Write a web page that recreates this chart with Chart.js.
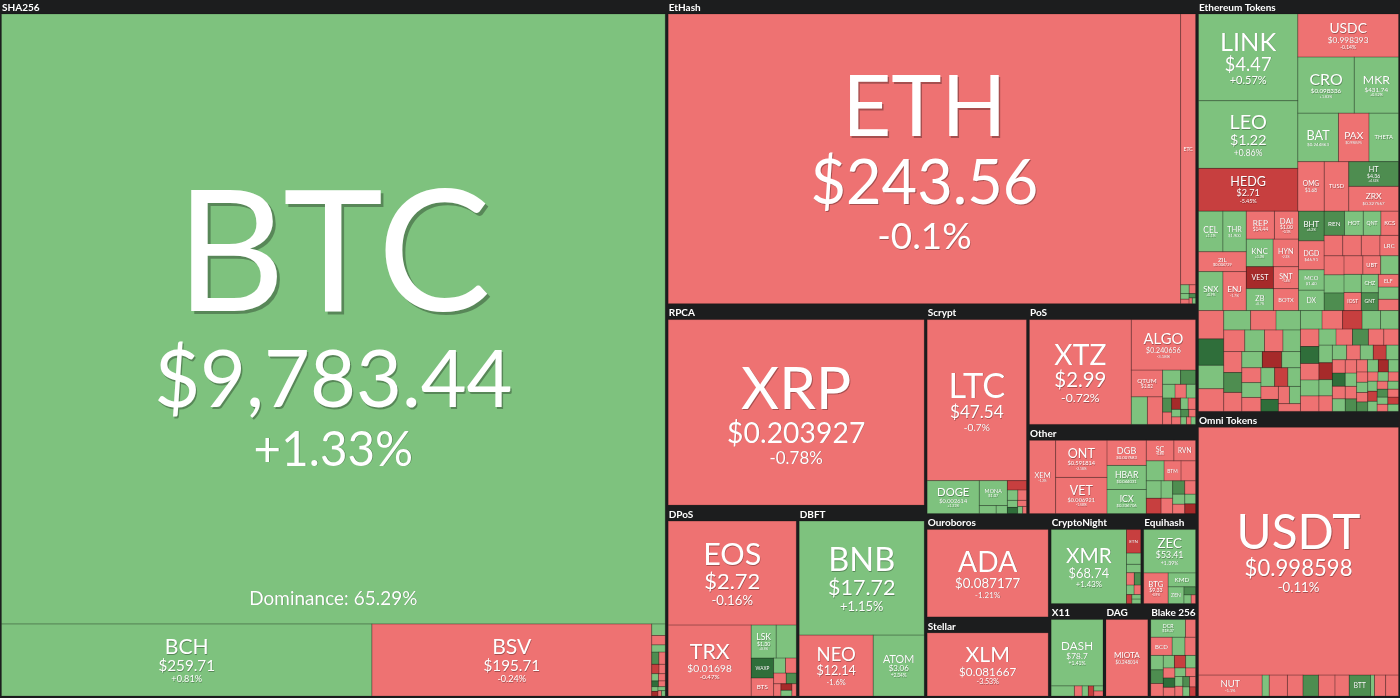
<!DOCTYPE html>
<html>
<head>
<meta charset="utf-8">
<title>Crypto market map</title>
<script src="https://cdn.jsdelivr.net/npm/chart.js@4.4.1/dist/chart.umd.min.js"></script>
<style>
  html, body { margin: 0; background: #1c1d1e; overflow: hidden; }
  #wrap { width: 1400px; height: 698px; }
</style>
</head>
<body>
<div id="wrap"><canvas id="map"></canvas></div>
<script>
/* ----------------------------------------------------------
   Data – cell sizes are relative market-cap weights
   ---------------------------------------------------------- */
const btcDominance = 65.29;

// SHA256
const shaSym   = ['BTC', 'BCH', 'BSV'];
const shaPrice = ['$9,783.44', '$259.71', '$195.71'];
const shaChg   = [1.33, 0.81, -0.24];
const shaSize  = [415.7, 27.4, 20.7];
const shaTinySize = [0.16, 0.13, 0.1, 0.09, 0.08, 0.07, 0.06, 0.05, 0.05, 0.04, 0.04, 0.03, 0.03, 0.03, 0.02, 0.02];
const shaTinyChg  = [1.2, -1.5, 0.6, 5.1, -2.2, -6.3, -1.1, 2.4, -0.9, 9.2, -3.1, 0.8, -8.4, 1.9, -0.4, 0.3];

// EtHash
const ethSym   = ['ETH', 'ETC'];
const ethPrice = ['$243.56', '$4.54'];
const ethChg   = [-0.1, -0.4];
const ethSize  = [157.3, 4.3];
const ethTinySize = [0.08, 0.06, 0.05, 0.04, 0.03, 0.02, 0.02];
const ethTinyChg  = [1.4, -1.1, 2.3, -0.6, 5.2, -2.7, 0.9];

// Ethereum Tokens
const etSym   = ['LINK', 'LEO', 'HEDG', 'USDC', 'CRO', 'MKR', 'BAT', 'PAX', 'THETA', 'OMG', 'TUSD', 'HT', 'ZRX'];
const etPrice = ['$4.47', '$1.22', '$2.71', '$0.998393', '$0.098336', '$431.74', '$0.244863', '$0.998595', '', '$1.68', '', '$4.36', '$0.327567'];
const etChg   = [0.57, 0.86, -5.45, -0.14, 1.83, 0.52, 0.9, -0.2, 0.6, -0.5, -0.3, 4.52, -0.83];
const etSize  = [9.07, 7.08, 4.48, 4.57, 3.34, 2.62, 2.08, 1.56, 1.51, 1.38, 1.28, 1.3, 1.3];
const etMidSym   = ['CEL', 'THR', 'ZIL', 'SNX', 'ENJ', 'REP', 'DAI', 'KNC', 'HYN', 'VEST', 'SNT', 'ZB', 'BOTX'];
const etMidPrice = ['', '$1.900', '$0.004729', '', '', '$14.44', '$1.00', '', '', '', '', '', ''];
const etMidChg   = [1.1, 0.4, -1.5, 0.9, -1.7, -1.2, -0.1, 1.3, -2.2, -9.1, -1.4, 0.7, -2.5];
const etMidSize  = [1.04, 1.0, 1.0, 1.0, 0.96, 0.83, 0.71, 0.78, 0.74, 0.63, 0.58, 0.63, 0.58];
const etSmallSym   = ['DGD', 'BHT', 'MCO', 'DX', 'REN', 'HOT', 'QNT', 'KCS', '', '', '', 'LRC', 'NEXO', '', '', 'SEELE', 'UBT', 'SOLVE', 'MANA', 'IOST', 'CHZ', 'GNT', 'ELF', '', ''];
const etSmallPrice = ['$46.91', '', '$1.40'];
const etSmallSize  = [0.78, 0.8, 0.55, 0.55, 0.52, 0.48, 0.45, 0.45, 0.4, 0.4, 0.4, 0.4, 0.4, 0.38, 0.37, 0.37, 0.35, 0.35, 0.33, 0.33, 0.33, 0.32, 0.27, 0.26, 0.24];
const etSmallChg   = [-1.1, 6.2, 1.2, 0.7, 5.3, 1.5, 2.1, -0.6, -1.8, -0.9, -0.3, -2.4, -1.3, 0.9, 7.5, -1.6, -0.8, 1.1, 0.6, -1.4, 2.6, 4.8, -2.2, 1.7, -0.5];
const etMosASize = [0.75, 0.7, 0.62, 0.6, 0.55, 0.52, 0.5, 0.48, 0.45, 0.42, 0.4, 0.4, 0.38, 0.36, 0.35, 0.33, 0.32, 0.3, 0.3, 0.28, 0.27, 0.26, 0.25, 0.24, 0.22, 0.2, 0.2, 0.18];
const etMosAChg  = [-1.2, 8.5, 1.1, -0.7, 0.9, -2.3, 1.6, -1.8, 2.4, -0.5, 0.8, -1.1, 6.1, -0.9, 1.3, -9.2, 0.6, -1.4, 3.1, -0.6, 1.9, -5.5, 0.7, -2.0, 9.8, -1.6, 0.5, -0.8];
const etMosBSize = [0.42, 0.4, 0.38, 0.36, 0.35, 0.34, 0.33, 0.32, 0.31, 0.3, 0.29, 0.28, 0.27, 0.26, 0.25, 0.25, 0.24, 0.23, 0.22, 0.22,
                    0.21, 0.2, 0.2, 0.19, 0.18, 0.18, 0.17, 0.17, 0.16, 0.16, 0.15, 0.15, 0.14, 0.14, 0.13, 0.13, 0.12, 0.12, 0.11, 0.11,
                    0.1, 0.1, 0.1, 0.1, 0.1, 0.1, 0.09, 0.09, 0.09, 0.09, 0.08, 0.08, 0.08, 0.08];
const etMosBChg  = [1.3, -0.9, -7.2, 2.2, 0.6, -1.4, 9.1, -0.5, 1.8, -2.6, 0.4, -1.1, 5.4, -0.8, -1.9, 1.2, -8.8, 0.7, -0.4, 3.3,
                    -1.5, 1.0, -5.1, 0.5, -1.2, 8.2, -0.7, 1.6, -2.1, 0.9, -0.3, 4.4, -1.7, 1.1, -9.5, 0.8, -0.6, 2.7, -1.3, 6.3,
                    -0.9, 1.4, -2.8, 0.3, -4.6, 1.9, -1.0, 0.6, 7.7, -1.8, 1.2, -0.5, -6.6, 2.0];

// Omni Tokens
const omniSym   = ['USDT'];
const omniPrice = ['$0.998598'];
const omniChg   = [-0.11];
const omniSize  = [53.2];
const omniTinySym  = ['NUT', '', '', '', '', '', '', 'BTT'];
const omniTinySize = [1.43, 0.16, 0.41, 0.35, 0.35, 0.37, 0.32, 0.48, 0.09, 0.25, 0.29];
const omniTinyChg  = [-1.1, 1.4, -0.8, -1.6, 5.3, -0.9, -2.1, 4.6, 1.2, -1.3, -0.7];

// RPCA, DPoS, DBFT
const rpcaSym = ['XRP'], rpcaPrice = ['$0.203927'], rpcaChg = [-0.78], rpcaSize = [52.1];
const dposSym   = ['EOS', 'TRX', 'LSK', 'NANO'];
const dposPrice = ['$2.72', '$0.01698', '$1.30', ''];
const dposChg   = [-0.16, -0.47, 0.5, 0.7];
const dposSize  = [14.85, 6.57, 0.92, 0.74];
const dposTinySym  = ['WAXP', 'BTS', 'ARK'];
const dposTinySize = [0.5, 0.45, 0.2, 0.18, 0.15, 0.12, 0.1, 0.08, 0.07, 0.06];
const dposTinyChg  = [9.5, -1.2, 1.1, -2.0, -0.7, 6.0, -1.0, -9.0, 0.8, -0.6];
const dbftSym   = ['BNB', 'NEO', 'ATOM'];
const dbftPrice = ['$17.72', '$12.14', '$3.06'];
const dbftChg   = [1.15, -1.6, 2.34];
const dbftSize  = [15.9, 5.03, 3.47];

// Scrypt, PoS, Other
const scryptSym   = ['LTC', 'DOGE', 'MONA'];
const scryptPrice = ['$47.54', '$0.002614', '$1.07'];
const scryptChg   = [-0.7, 1.31, 0.6];
const scryptSize  = [17.8, 1.91, 0.78];
const scryptASize = [0.15, 0.1], scryptAChg = [0.8, 1.9];
const scryptBSize = [0.2, 0.12, 0.1, 0.08, 0.07, 0.06, 0.04, 0.03];
const scryptBChg  = [-6.2, 1.1, -1.5, 0.7, 8.1, -0.9, 2.2, -1.2];
const posSym   = ['XTZ', 'ALGO', 'QTUM', 'WAVES', 'NRG'];
const posPrice = ['$2.99', '$0.240656', '$1.82', '', ''];
const posChg   = [-0.72, -3.18, -1.1, 1.3, -0.9];
const posSize  = [12.5, 3.8, 0.98, 0.52, 0.49];
const posTinySize = [0.3, 0.25, 0.2, 0.18, 0.15, 0.15, 0.13, 0.12, 0.1, 0.1, 0.08, 0.08, 0.07, 0.06, 0.05, 0.04, 0.04];
const posTinyChg  = [1.2, 7.8, 0.9, -1.1, 1.6, 5.2, -0.8, -8.5, 2.1, -1.9, 0.6, -0.7, 6.4, -1.3, 1.0, -2.4, 0.8];
const otherSym   = ['XEM', 'ONT', 'VET', 'DGB', 'HBAR', 'ICX'];
const otherPrice = ['', '$0.591814', '$0.006921', '$0.007683', '$0.044031', '$0.336706'];
const otherChg   = [-1.2, -2.18, -1.58, -0.9, 1.0, 0.28];
const otherSize  = [2.37, 2.36, 2.3, 1.22, 1.17, 1.17];
const otherTinySym  = ['SC', 'RVN', 'STEEM', 'BTM', 'XVG'];
const otherTinySize = [0.7, 0.55, 0.44, 0.42, 0.36, 0.32, 0.28, 0.25, 0.22, 0.2, 0.18, 0.15, 0.14, 0.13, 0.13];
const otherTinyChg  = [-0.8, -1.4, 0.7, -1.0, -1.9, 1.2, -6.1, 0.8, -1.3, 5.9, -0.6, 1.5, -2.2, 0.9, -8.8];

// Ouroboros, Stellar, CryptoNight, Equihash, X11, DAG, Blake 256
const ouroSym = ['ADA'], ouroPrice = ['$0.087177'], ouroChg = [-1.21], ouroSize = [12.8];
const xlmSym = ['XLM'], xlmPrice = ['$0.081667'], xlmChg = [-3.53], xlmSize = [9.8];
const cnSym = ['XMR'], cnPrice = ['$68.74'], cnChg = [1.43], cnSize = [7.0];
const cnTinySym  = ['ETN', 'BCN'];
const cnTinySize = [0.42, 0.2, 0.15, 0.12, 0.1, 0.09, 0.08, 0.06, 0.05, 0.05];
const cnTinyChg  = [-5.8, 1.0, 0.6, -1.2, 7.2, 1.4, -0.7, -6.5, 0.9, 2.1];
const eqSym   = ['ZEC', 'BTG', 'KMD', 'ZEN'];
const eqPrice = ['$53.41', '$9.33', '', ''];
const eqChg   = [1.39, -0.9, 0.8, 1.1];
const eqSize  = [2.89, 0.96, 0.49, 0.34];
const eqTinySize = [0.12, 0.08, 0.05], eqTinyChg = [5.5, 1.2, -0.8];
const x11Sym = ['DASH'], x11Price = ['$78.7'], x11Chg = [1.41], x11Size = [4.39];
const x11TinySize = [0.3, 0.1, 0.08, 0.07, 0.06, 0.06];
const x11TinyChg  = [1.1, -1.3, 0.7, -6.0, 1.9, -0.8];
const dagSym = ['MIOTA'], dagPrice = ['$0.248014'], dagChg = [-1.1], dagSize = [4.14];
const blakeSym   = ['DCR', 'HC'];
const blakePrice = ['$18.37', ''];
const blakeChg   = [0.6, -1.2];
const blakeSize  = [0.79, 0.23];
const blakeTinySym  = ['BCD'];
const blakeTinySize = [0.5, 0.3, 0.25, 0.23, 0.22, 0.2, 0.18, 0.18, 0.16, 0.15, 0.14, 0.13, 0.12, 0.11, 0.1, 0.1, 0.09, 0.08, 0.08, 0.07];
const blakeTinyChg  = [-1.3, 1.2, -0.9, 0.8, 5.1, -1.6, 0.6, -7.4, 1.4, -0.5, 8.3, -1.1, 0.9, -2.3, 1.6, -0.7, 4.6, -0.4, 1.2, -5.2];

/* ----------------------------------------------------------
   Lookup tables built from the arrays
   ---------------------------------------------------------- */
const coins = {};
function addCoins(sym, price, chg, size) {
  sym.forEach((s, i) => { coins[s] = { sym: s, price: price[i] || '', chg: chg[i], v: size[i] }; });
}
addCoins(shaSym, shaPrice, shaChg, shaSize);
addCoins(ethSym, ethPrice, ethChg, ethSize);
addCoins(etSym, etPrice, etChg, etSize);
addCoins(etMidSym, etMidPrice, etMidChg, etMidSize);
addCoins(omniSym, omniPrice, omniChg, omniSize);
addCoins(rpcaSym, rpcaPrice, rpcaChg, rpcaSize);
addCoins(dposSym, dposPrice, dposChg, dposSize);
addCoins(dbftSym, dbftPrice, dbftChg, dbftSize);
addCoins(scryptSym, scryptPrice, scryptChg, scryptSize);
addCoins(posSym, posPrice, posChg, posSize);
addCoins(otherSym, otherPrice, otherChg, otherSize);
addCoins(ouroSym, ouroPrice, ouroChg, ouroSize);
addCoins(xlmSym, xlmPrice, xlmChg, xlmSize);
addCoins(cnSym, cnPrice, cnChg, cnSize);
addCoins(eqSym, eqPrice, eqChg, eqSize);
addCoins(x11Sym, x11Price, x11Chg, x11Size);
addCoins(dagSym, dagPrice, dagChg, dagSize);
addCoins(blakeSym, blakePrice, blakeChg, blakeSize);

const tiny = {};
function addTiny(name, size, chg, sym = [], price = []) {
  tiny[name] = size.map((v, i) => ({ v, chg: chg[i] ?? 0, sym: sym[i] || '', price: price[i] || '' }));
}
addTiny('shaTiny', shaTinySize, shaTinyChg);
addTiny('ethTiny', ethTinySize, ethTinyChg);
addTiny('etSmall', etSmallSize, etSmallChg, etSmallSym, etSmallPrice);
addTiny('etMosA', etMosASize, etMosAChg);
addTiny('etMosB', etMosBSize, etMosBChg);
addTiny('omniTiny', omniTinySize, omniTinyChg, omniTinySym);
addTiny('dposTiny', dposTinySize, dposTinyChg, dposTinySym);
addTiny('scryptA', scryptASize, scryptAChg);
addTiny('scryptB', scryptBSize, scryptBChg);
addTiny('posTiny', posTinySize, posTinyChg);
addTiny('otherTiny', otherTinySize, otherTinyChg, otherTinySym);
addTiny('cnTiny', cnTinySize, cnTinyChg, cnTinySym);
addTiny('eqTiny', eqTinySize, eqTinyChg);
addTiny('x11Tiny', x11TinySize, x11TinyChg);
addTiny('blakeTiny', blakeTinySize, blakeTinyChg, blakeTinySym);

/* ----------------------------------------------------------
   Split structure: 'h' = side by side, 'v' = stacked,
   '#name' = squarified block, '>name' = single row block
   ---------------------------------------------------------- */
const groupLayouts = {
  'SHA256': ['v', 'BTC', ['h', 'BCH', 'BSV', '#shaTiny']],
  'EtHash': ['h', 'ETH', ['v', 'ETC', '#ethTiny']],
  'Ethereum Tokens': ['v',
    ['h', ['v', 'LINK', 'LEO', 'HEDG'],
          ['v', 'USDC', ['h', 'CRO', 'MKR'], ['h', 'BAT', 'PAX', 'THETA'], ['h', 'OMG', 'TUSD', ['v', 'HT', 'ZRX']]]],
    ['h', ['v', ['h', 'CEL', 'THR'], 'ZIL', ['h', 'SNX', 'ENJ']],
          ['v', ['h', 'REP', 'DAI'], ['h', 'KNC', 'HYN'], ['h', 'VEST', 'SNT'], ['h', 'ZB', 'BOTX']],
          '#etSmall'],
    ['h', '#etMosA', '#etMosB']],
  'Omni Tokens': ['v', 'USDT', '>omniTiny'],
  'RPCA': 'XRP',
  'DPoS': ['v', 'EOS', ['h', 'TRX', ['v', ['h', 'LSK', 'NANO'], '#dposTiny']]],
  'DBFT': ['v', 'BNB', ['h', 'NEO', 'ATOM']],
  'Scrypt': ['v', 'LTC', ['h', 'DOGE', ['v', 'MONA', '#scryptA'], '#scryptB']],
  'PoS': ['h', 'XTZ', ['v', 'ALGO', ['h', ['v', 'QTUM', ['h', 'WAVES', 'NRG']], '#posTiny']]],
  'Other': ['h', 'XEM', ['v', 'ONT', 'VET'], ['v', 'DGB', 'HBAR', 'ICX'], '#otherTiny'],
  'Ouroboros': 'ADA',
  'Stellar': 'XLM',
  'CryptoNight': ['h', 'XMR', '#cnTiny'],
  'Equihash': ['v', 'ZEC', ['h', 'BTG', ['v', 'KMD', ['h', 'ZEN', '#eqTiny']]]],
  'X11': ['v', 'DASH', '#x11Tiny'],
  'DAG': 'MIOTA',
  'Blake 256': ['v', ['h', 'DCR', 'HC'], '#blakeTiny'],
};

const topLayout = ['h', { g: 'SHA256' },
  ['v', { g: 'EtHash' },
    ['h',
      ['v', { g: 'RPCA' }, ['h', { g: 'DPoS' }, { g: 'DBFT' }]],
      ['v',
        ['h', { g: 'Scrypt' }, ['v', { g: 'PoS' }, { g: 'Other' }]],
        ['h', ['v', { g: 'Ouroboros' }, { g: 'Stellar' }],
              ['v', ['h', { g: 'CryptoNight' }, { g: 'Equihash' }], ['h', { g: 'X11' }, { g: 'DAG' }, { g: 'Blake 256' }]]]]]],
  ['v', { g: 'Ethereum Tokens' }, { g: 'Omni Tokens' }]];

const MAP_W = 1400, MAP_H = 698;
const HEAD = 14, PAD = 1.5, PAD_B = 2;
const FONT = 'Lato, "Open Sans", sans-serif';

/* ----------------------------------------------------------
   Layout
   ---------------------------------------------------------- */
function nodeValue(n) {
  if (typeof n === 'string') {
    if (n[0] === '#' || n[0] === '>') return tiny[n.slice(1)].reduce((s, it) => s + it.v, 0);
    return coins[n].v;
  }
  if (n.g) return nodeValue(groupLayouts[n.g]);
  return n.slice(1).reduce((s, k) => s + nodeValue(k), 0);
}

function worst(row, sum, side, k) {
  let mx = -Infinity, mn = Infinity;
  row.forEach(it => { const a = it.v * k; mx = Math.max(mx, a); mn = Math.min(mn, a); });
  const s2 = sum * sum, w2 = side * side;
  return Math.max(w2 * mx / s2, s2 / (w2 * mn));
}

function squarify(items, r, cells) {
  const list = items.slice().sort((a, b) => b.v - a.v);
  const total = list.reduce((s, it) => s + it.v, 0);
  let { x0, y0, x1, y1 } = r;
  const k = (x1 - x0) * (y1 - y0) / total;
  let i = 0;
  while (i < list.length) {
    const w = x1 - x0, h = y1 - y0, side = Math.min(w, h);
    let row = [list[i]], sum = list[i].v * k, best = worst(row, sum, side, k), j = i + 1;
    while (j < list.length) {
      const nrow = row.concat(list[j]), nsum = sum + list[j].v * k, nw = worst(nrow, nsum, side, k);
      if (nw > best) break;
      row = nrow; sum = nsum; best = nw; j++;
    }
    if (w >= h) {
      const cw = sum / h; let yy = y0;
      row.forEach(it => { const ch = it.v * k / cw; cells.push({ item: it, r: { x0, y0: yy, x1: x0 + cw, y1: yy + ch } }); yy += ch; });
      x0 += cw;
    } else {
      const rh = sum / w; let xx = x0;
      row.forEach(it => { const cw = it.v * k / rh; cells.push({ item: it, r: { x0: xx, y0, x1: xx + cw, y1: y0 + rh } }); xx += cw; });
      y0 += rh;
    }
    i = j;
  }
}

function place(n, r, cells, groups) {
  if (typeof n === 'string') {
    if (n[0] === '#') return squarify(tiny[n.slice(1)], r, cells);
    if (n[0] === '>') {
      const items = tiny[n.slice(1)], tot = items.reduce((s, it) => s + it.v, 0);
      let xx = r.x0;
      items.forEach(it => { const w = (r.x1 - r.x0) * it.v / tot; cells.push({ item: it, r: { x0: xx, y0: r.y0, x1: xx + w, y1: r.y1 } }); xx += w; });
      return;
    }
    cells.push({ item: coins[n], r });
    return;
  }
  if (n.g) {
    groups.push({ name: n.g, r });
    place(groupLayouts[n.g], { x0: r.x0 + PAD, y0: r.y0 + HEAD, x1: r.x1 - PAD, y1: r.y1 - PAD_B }, cells, groups);
    return;
  }
  const dir = n[0], kids = n.slice(1);
  const tot = kids.reduce((s, k) => s + nodeValue(k), 0);
  let pos = dir === 'h' ? r.x0 : r.y0;
  kids.forEach(k => {
    const span = (dir === 'h' ? r.x1 - r.x0 : r.y1 - r.y0) * nodeValue(k) / tot;
    const sub = dir === 'h' ? { x0: pos, y0: r.y0, x1: pos + span, y1: r.y1 }
                            : { x0: r.x0, y0: pos, x1: r.x1, y1: pos + span };
    place(k, sub, cells, groups);
    pos += span;
  });
}

/* ----------------------------------------------------------
   Drawing helpers
   ---------------------------------------------------------- */
function cellColor(c) {
  if (c >= 0) return c >= 8 ? '#2f6e3a' : c >= 4 ? '#4e8d50' : '#7ec27e';
  return c <= -8 ? '#a62a2a' : c <= -4 ? '#c73f3f' : '#ee7272';
}

function fitSize(ctx, text, size, maxW) {
  ctx.font = `${size}px ${FONT}`;
  const w = ctx.measureText(text).width;
  return w > maxW ? size * maxW / w : size;
}

// baseline placed so that the cap height is centred on y
function drawText(ctx, text, x, y, size) {
  ctx.font = `${size}px ${FONT}`;
  const off = Math.max(0.5, size * 0.017);
  ctx.shadowColor = 'rgba(0,0,0,0.3)';
  ctx.shadowOffsetX = off;
  ctx.shadowOffsetY = off;
  ctx.fillText(text, x, y + 0.36 * size);
  ctx.shadowColor = 'transparent';
}

function drawLabel(ctx, it, l, t, w, h) {
  if (!it.sym) return;
  const chgTxt = (it.chg >= 0 ? '+' : '-') + Math.abs(it.chg) + '%';
  let s = Math.min(0.265 * Math.sqrt(w * h) + 1, 0.45 * h);
  s = fitSize(ctx, it.sym, s, 0.62 * w);
  let p = it.price ? fitSize(ctx, it.price, 0.72 * s, 0.54 * w) : 0;
  let c = fitSize(ctx, chgTxt, 0.6 * (p || 0.7 * s), 0.5 * w);
  const block = s + 1.1 * p + 1.05 * c;
  if (block > 0.66 * h) { const k = 0.66 * h / block; s *= k; p *= k; c *= k; }
  if (s < 4.5) return;
  if (p < 3.2) p = 0;
  if (c < 3) c = 0;
  const lines = [[it.sym, s]];
  if (p) lines.push([it.price, p]);
  if (c) lines.push([chgTxt, c]);
  const ys = [0];
  for (let i = 1; i < lines.length; i++) ys.push(ys[i - 1] + (i === 1 ? 0.5 : 0.55) * lines[i - 1][1] + 0.55 * lines[i][1]);
  const top = -0.5 * s, bottom = ys[ys.length - 1] + 0.5 * lines[lines.length - 1][1];
  const y0 = t + h / 2 - (top + bottom) / 2;
  ctx.fillStyle = '#ffffff';
  ctx.textAlign = 'center';
  ctx.textBaseline = 'alphabetic';
  lines.forEach((ln, i) => drawText(ctx, ln[0], l + w / 2, y0 + ys[i], ln[1]));
  if (it.sym === 'BTC') drawText(ctx, `Dominance: ${btcDominance}%`, l + w / 2, t + h - 26, 19);
}

const treemapPlugin = {
  id: 'cryptoTreemap',
  beforeDraw(chart) {
    const { ctx, width, height } = chart;
    ctx.save();
    ctx.fillStyle = '#1c1d1e';
    ctx.fillRect(0, 0, width, height);
    ctx.restore();
  },
  afterDatasetsDraw(chart) {
    const { ctx, scales: { x, y } } = chart;
    const X = v => x.getPixelForValue(v), Y = v => y.getPixelForValue(v);
    const cells = [], groups = [];
    place(topLayout, { x0: x.min, y0: y.min, x1: x.max, y1: y.max }, cells, groups);
    ctx.save();
    // group headers
    ctx.fillStyle = '#ffffff';
    ctx.textAlign = 'left';
    ctx.textBaseline = 'middle';
    ctx.font = `bold 10px ${FONT}`;
    groups.forEach(gr => ctx.fillText(gr.name, X(gr.r.x0) + 2, Y(gr.r.y0) + 7.5));
    // cells
    const px = cells.map(cl => {
      const l = X(cl.r.x0), t = Y(cl.r.y0);
      return { it: cl.item, l, t, w: X(cl.r.x1) - l, h: Y(cl.r.y1) - t };
    });
    px.forEach(p => {
      ctx.fillStyle = cellColor(p.it.chg);
      ctx.fillRect(p.l, p.t, p.w, p.h);
    });
    ctx.strokeStyle = 'rgba(0,0,0,0.16)';
    ctx.lineWidth = 1;
    px.forEach(p => ctx.strokeRect(p.l, p.t, p.w, p.h));
    px.forEach(p => drawLabel(ctx, p.it, p.l, p.t, p.w, p.h));
    ctx.restore();
  },
};

new Chart(document.getElementById('map'), {
  type: 'scatter',
  data: { datasets: [] },
  options: {
    responsive: true,
    maintainAspectRatio: false,
    animation: false,
    layout: { padding: 0 },
    scales: {
      x: { type: 'linear', min: 0, max: MAP_W, display: false },
      y: { type: 'linear', min: 0, max: MAP_H, reverse: true, display: false },
    },
    plugins: { legend: { display: false }, tooltip: { enabled: false } },
  },
  plugins: [treemapPlugin],
});
</script>
</body>
</html>
